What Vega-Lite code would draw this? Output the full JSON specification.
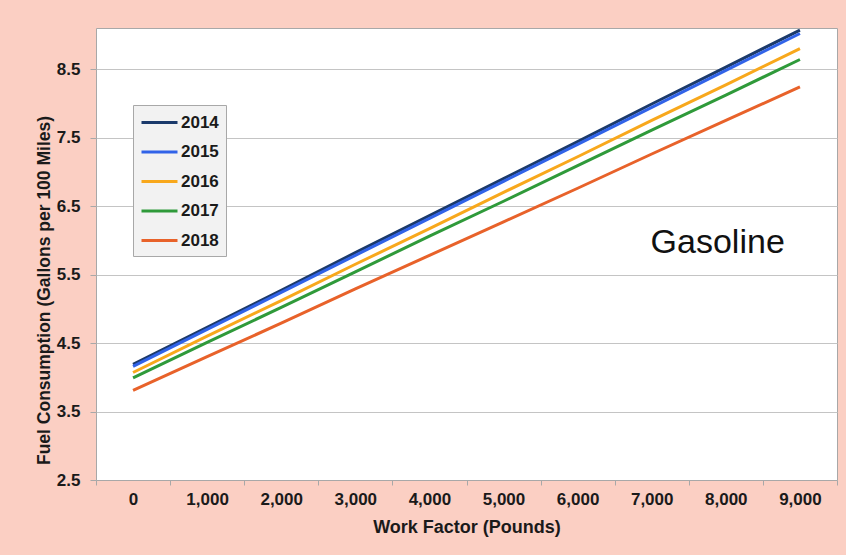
{
  "$schema": "https://vega.github.io/schema/vega-lite/v6.json",
  "width": 741,
  "height": 452,
  "autosize": "none",
  "padding": {"left": 96, "top": 28, "right": 9, "bottom": 75},
  "background": "#fbcfc3",
  "config": {
    "view": {"fill": "white", "stroke": "#a8a8a8", "strokeWidth": 1},
    "font": "Liberation Sans"
  },
  "layer": [
    {
      "data": {"values": [
        {"wf": 0, "year": "2014", "fuel": 4.19}, {"wf": 1000, "year": "2014", "fuel": 4.73}, {"wf": 2000, "year": "2014", "fuel": 5.27}, {"wf": 3000, "year": "2014", "fuel": 5.82}, {"wf": 4000, "year": "2014", "fuel": 6.36}, {"wf": 5000, "year": "2014", "fuel": 6.90}, {"wf": 6000, "year": "2014", "fuel": 7.44}, {"wf": 7000, "year": "2014", "fuel": 7.99}, {"wf": 8000, "year": "2014", "fuel": 8.53}, {"wf": 9000, "year": "2014", "fuel": 9.07},
        {"wf": 0, "year": "2015", "fuel": 4.16}, {"wf": 1000, "year": "2015", "fuel": 4.70}, {"wf": 2000, "year": "2015", "fuel": 5.24}, {"wf": 3000, "year": "2015", "fuel": 5.78}, {"wf": 4000, "year": "2015", "fuel": 6.32}, {"wf": 5000, "year": "2015", "fuel": 6.86}, {"wf": 6000, "year": "2015", "fuel": 7.40}, {"wf": 7000, "year": "2015", "fuel": 7.94}, {"wf": 8000, "year": "2015", "fuel": 8.48}, {"wf": 9000, "year": "2015", "fuel": 9.02},
        {"wf": 0, "year": "2016", "fuel": 4.07}, {"wf": 1000, "year": "2016", "fuel": 4.60}, {"wf": 2000, "year": "2016", "fuel": 5.12}, {"wf": 3000, "year": "2016", "fuel": 5.65}, {"wf": 4000, "year": "2016", "fuel": 6.17}, {"wf": 5000, "year": "2016", "fuel": 6.70}, {"wf": 6000, "year": "2016", "fuel": 7.22}, {"wf": 7000, "year": "2016", "fuel": 7.75}, {"wf": 8000, "year": "2016", "fuel": 8.27}, {"wf": 9000, "year": "2016", "fuel": 8.80},
        {"wf": 0, "year": "2017", "fuel": 3.99}, {"wf": 1000, "year": "2017", "fuel": 4.51}, {"wf": 2000, "year": "2017", "fuel": 5.02}, {"wf": 3000, "year": "2017", "fuel": 5.54}, {"wf": 4000, "year": "2017", "fuel": 6.06}, {"wf": 5000, "year": "2017", "fuel": 6.57}, {"wf": 6000, "year": "2017", "fuel": 7.09}, {"wf": 7000, "year": "2017", "fuel": 7.61}, {"wf": 8000, "year": "2017", "fuel": 8.12}, {"wf": 9000, "year": "2017", "fuel": 8.64},
        {"wf": 0, "year": "2018", "fuel": 3.81}, {"wf": 1000, "year": "2018", "fuel": 4.30}, {"wf": 2000, "year": "2018", "fuel": 4.79}, {"wf": 3000, "year": "2018", "fuel": 5.29}, {"wf": 4000, "year": "2018", "fuel": 5.78}, {"wf": 5000, "year": "2018", "fuel": 6.27}, {"wf": 6000, "year": "2018", "fuel": 6.76}, {"wf": 7000, "year": "2018", "fuel": 7.26}, {"wf": 8000, "year": "2018", "fuel": 7.75}, {"wf": 9000, "year": "2018", "fuel": 8.24}
      ]},
      "mark": {"type": "line", "strokeWidth": 3},
      "encoding": {
        "x": {
          "field": "wf", "type": "quantitative",
          "scale": {"domain": [-500, 9500], "nice": false, "zero": false},
          "axis": {
            "title": "Work Factor (Pounds)",
            "values": [-500, 500, 1500, 2500, 3500, 4500, 5500, 6500, 7500, 8500, 9500],
            "labelExpr": "datum.value >= 9000 ? '' : format(datum.value + 500, ',')",
            "labelOffset": 37,
            "labelFlush": false,
            "labelOverlap": false,
            "labelBound": false,
            "grid": false,
            "domainColor": "#a8a8a8",
            "tickColor": "#a8a8a8",
            "tickSize": 5,
            "labelPadding": 6,
            "labelFont": "Liberation Sans",
            "labelFontSize": 17,
            "labelFontWeight": "bold",
            "labelColor": "#1a1a1a",
            "titleFont": "Liberation Sans",
            "titleFontSize": 18,
            "titleFontWeight": "bold",
            "titleColor": "#1a1a1a",
            "titlePadding": 11
          }
        },
        "y": {
          "field": "fuel", "type": "quantitative",
          "scale": {"domain": [2.5, 9.1], "nice": false, "zero": false},
          "axis": {
            "title": "Fuel Consumption (Gallons per 100 Miles)",
            "values": [2.5, 3.5, 4.5, 5.5, 6.5, 7.5, 8.5],
            "format": ".1f",
            "domain": false,
            "gridColor": "#c4c4c4",
            "tickColor": "#a8a8a8",
            "tickSize": 6,
            "labelPadding": 10,
            "labelFont": "Liberation Sans",
            "labelFontSize": 17,
            "labelFontWeight": "bold",
            "labelColor": "#1a1a1a",
            "titleFont": "Liberation Sans",
            "titleFontSize": 17.5,
            "titleFontWeight": "bold",
            "titleColor": "#1a1a1a",
            "titlePadding": 3,
            "titleY": 262
          }
        },
        "color": {
          "field": "year", "type": "nominal",
          "scale": {"domain": ["2014", "2015", "2016", "2017", "2018"], "range": ["#1b3a6b", "#3163e8", "#f8a81c", "#2f9a3a", "#e8622a"]},
          "legend": {
            "title": null,
            "orient": "none",
            "legendX": 37,
            "legendY": 77,
            "fillColor": "#f2f2f2",
            "strokeColor": "#a8a8a8",
            "padding": 7,
            "symbolType": "M-1,0L3,0",
            "symbolSize": 324,
            "symbolStrokeWidth": 3,
            "labelFont": "Liberation Sans",
            "labelFontSize": 17,
            "labelFontWeight": "bold",
            "labelColor": "#1a1a1a",
            "labelOffset": 20,
            "rowPadding": 10.5
          }
        }
      }
    },
    {
      "data": {"values": [{"label": "Gasoline", "wf": 7890, "fuel": 5.81}]},
      "mark": {"type": "text", "font": "Liberation Sans", "fontSize": 34, "align": "center", "baseline": "alphabetic", "color": "#111"},
      "encoding": {
        "x": {"field": "wf", "type": "quantitative"},
        "y": {"field": "fuel", "type": "quantitative"},
        "text": {"field": "label"}
      }
    }
  ]
}
